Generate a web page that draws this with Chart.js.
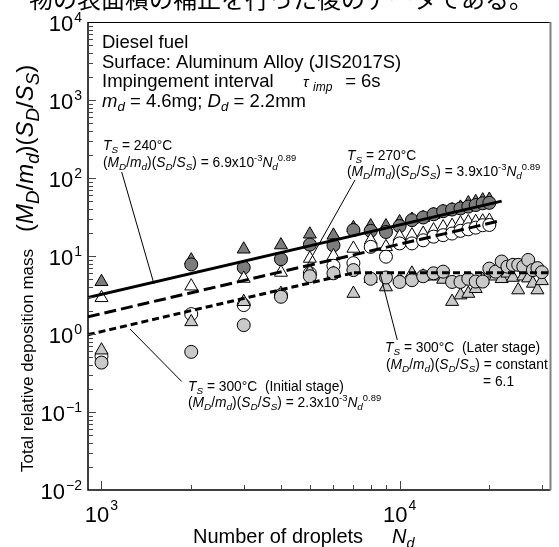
<!DOCTYPE html>
<html><head><meta charset="utf-8">
<script src="https://cdn.jsdelivr.net/npm/chart.js@4.4.0/dist/chart.umd.min.js"></script>
<style>html,body{margin:0;padding:0;background:#fff;overflow:hidden}</style>
</head><body><canvas id="c" width="559" height="547"></canvas>
<script>
// ---------- data ----------
const dropletsA = [1000,2000,3000,4000,5000,6000,7000,8000,9000,10000,11000,12000,13000,14000,15000,16000,17000,18000,19000,20000];
const dropletsC = [1000,2000,3000,4000,5000,6000,7000,8000,9000,10000,11000,12000,13000,14000,15000,16000,17000,18000,19000,20000,21000,22000,23000,24000,25000,26000,27000,28000,29000,30000];
// Ts = 240 C
const t240Tri  = [4.67,8.85,12.2,13.8,19.0,18.4,23.0,24.2,24.2,27.3,29.4,31.0,34.0,37.0,39.0,42.0,47.8,49.6,52.0,53.0];
const t240Circ = [null,7.8,7.1,9.1,14.0,13.7,21.5,21.0,20.3,24.2,28.8,31.2,34.3,37.5,39.4,40.7,43.0,45.0,47.4,48.0];
// Ts = 270 C
const t270Tri  = [2.91,4.1,5.15,6.15,9.3,10.0,12.5,15.9,13.1,17.7,18.5,19.4,21.5,23.5,24.5,26.4,27.3,27.5,27.9,28.5];
const t270Circ = [0.52,1.8,2.35,3.15,6.0,7.5,8.1,13.1,9.8,14.5,14.5,15.9,17.7,18.5,19.4,21.0,22.0,23.1,24.8,25.0];
// Ts = 300 C
const t300Tri  = [0.62,1.43,2.59,3.3,6.3,6.0,3.3,5.1,4.0,5.0,6.0,5.5,5.5,5.0,2.6,3.15,3.3,3.8,5.0,6.0,5.5,5.1,6.0,5.3,3.66,5.5,5.2,4.45,3.66,4.8];
const t300Circ = [0.43,0.59,1.3,3.0,5.5,6.0,6.6,5.1,5.3,4.65,4.9,5.5,6.0,6.3,4.65,4.65,5.1,4.7,4.7,6.9,6.3,8.5,7.3,7.7,7.7,7.3,8.9,6.6,7.0,6.2];
// fitted lines (end points)
const fit240N = [900,22000],  fit240V = [2.94,50.5];
const fit270N = [900,22000],  fit270V = [1.66,28.6];
const fit300iN = [900,7030],  fit300iV = [0.98,6.1];
const fit300lN = [7030,32000], fit300lV = [6.1,6.1];
// ticks
const yTickExp = [-2,-1,0,1,2,3,4];
const xTickExp = [3,4];

const pts = (xs, ys) => xs.map((x,i)=>({x, y: ys[i]})).filter(p=>p.y!=null);
const DARK = '#7c7c7c', LIGHT = '#c9c9c9', WHITE = '#ffffff';

function scatterDS(label, xs, ys, style, fill, r){
  return {type:'scatter', label, data: pts(xs,ys), pointStyle: style, pointRadius: r, pointHoverRadius: r,
    backgroundColor: fill, borderColor:'#000', borderWidth:1, showLine:false, order:1, clip:false};
}
function lineDS(label, xs, ys, dash){
  return {type:'line', label, data: pts(xs,ys), borderColor:'#000', borderWidth:3, borderDash: dash,
    pointRadius:0, fill:false, tension:0, order:0, borderCapStyle:'butt'};
}

const FONT = '"Liberation Sans", Arial, sans-serif';

// rich text: segs [[text, kind]] kind: '' normal, 'i' italic, 'b' italic subscript, 'B' upright subscript, 'p' superscript
function rich(ctx, x, y, base, segs, align, subScale){
  const ss = subScale || 0.72;
  const parts = segs.map(([t,k])=>{
    let size = base, dy = 0, it = false;
    if (k==='i') it = true;
    if (k==='b' || k==='B'){ size = base*ss; dy = base*0.25; it = (k==='b'); }
    if (k==='p'){ size = base*0.68; dy = -base*0.42; }
    if (k==='P'){ size = base*0.68; dy = -base*0.42; it = true; }
    const font = (it?'italic ':'') + size + 'px ' + FONT;
    ctx.font = font;
    return {t, font, dy, w: ctx.measureText(t).width};
  });
  const total = parts.reduce((a,p)=>a+p.w,0);
  let cx = x;
  if (align==='center') cx = x - total/2;
  if (align==='right') cx = x - total;
  ctx.textBaseline = 'alphabetic';
  ctx.textAlign = 'left';
  for (const p of parts){ ctx.font = p.font; ctx.fillText(p.t, cx, y + p.dy); cx += p.w; }
  return total;
}

const decor = {
  id:'decor',
  afterDraw(chart){
    const ctx = chart.ctx, a = chart.chartArea, xs = chart.scales.x, ys = chart.scales.y;
    ctx.save();
    ctx.fillStyle = '#000';
    // clipped Japanese text at the very top
    ctx.font = '24px "Noto Sans CJK JP"';
    ctx.textBaseline = 'alphabetic';
    ctx.fillText('物の表面積の補正を行った後のデータである。', 29, 8);

    // frame
    ctx.strokeStyle = '#000';
    ctx.lineWidth = 1.5;
    ctx.beginPath();
    ctx.moveTo(a.left, a.top); ctx.lineTo(a.left, a.bottom); ctx.lineTo(a.right, a.bottom);
    ctx.stroke();
    ctx.lineWidth = 1;
    ctx.beginPath(); ctx.moveTo(a.left, a.top+0.5); ctx.lineTo(a.right, a.top+0.5); ctx.stroke();
    ctx.strokeStyle = '#808080'; ctx.lineWidth = 2;
    ctx.beginPath(); ctx.moveTo(a.right, a.top); ctx.lineTo(a.right, a.bottom); ctx.stroke();

    // ticks
    ctx.strokeStyle = '#444'; ctx.lineWidth = 1;
    for (let e=-2; e<4; e++){
      for (let m=1; m<10; m++){
        const v = m*Math.pow(10,e);
        const py = Math.round(ys.getPixelForValue(v))+0.5;
        const len = m===1 ? 8 : 5;
        ctx.beginPath(); ctx.moveTo(a.left, py); ctx.lineTo(a.left+len, py); ctx.stroke();
      }
    }
    for (let e=2; e<5; e++){
      for (let m=1; m<10; m++){
        const v = m*Math.pow(10,e);
        if (v < xs.min || v > xs.max) continue;
        const px = Math.round(xs.getPixelForValue(v))+0.5;
        const len = m===1 ? 9 : 5;
        ctx.beginPath(); ctx.moveTo(px, a.bottom); ctx.lineTo(px, a.bottom-len); ctx.stroke();
      }
    }

    // tick labels
    ctx.fillStyle = '#000';
    for (const e of yTickExp){
      const py = ys.getPixelForValue(Math.pow(10,e));
      const sup = e<0 ? '\u2212'+(-e) : String(e);
      ctx.font = '14px '+FONT; const sw = ctx.measureText(sup).width;
      ctx.font = '22px '+FONT; const tw = ctx.measureText('10').width;
      const right = 82;
      ctx.textAlign='left'; ctx.textBaseline='alphabetic';
      ctx.fillText('10', right - sw - tw - 1, py + 9);
      ctx.font = '14px '+FONT;
      ctx.fillText(sup, right - sw, py);
    }
    for (const e of xTickExp){
      const px = xs.getPixelForValue(Math.pow(10,e));
      const sup = String(e);
      ctx.font = '14px '+FONT; const sw = ctx.measureText(sup).width;
      ctx.font = '22px '+FONT; const tw = ctx.measureText('10').width;
      const left = px - (sw+tw+1)/2;
      ctx.fillText('10', left, 522);
      ctx.font = '14px '+FONT;
      ctx.fillText(sup, left + tw + 1, 510);
    }

    // axis titles
    rich(ctx, 193, 543, 20, [['Number of droplets','']], 'left');
    rich(ctx, 392, 543, 20, [['N','i'],['d','b']], 'left');
    ctx.save();
    ctx.translate(33, 472);
    ctx.rotate(-Math.PI/2);
    rich(ctx, 0, 0, 17, [['Total relative deposition mass','']], 'left');
    rich(ctx, 240, 0, 24, [['(',''],['M','i'],['D','b'],['/',''],['m','i'],['d','b'],[')(',''],['S','i'],['D','b'],['/',''],['S','i'],['S','b'],[')','']], 'left', 0.78);
    ctx.restore();

    // info block
    const bx = 102;
    rich(ctx, bx, 48, 18.5, [['Diesel fuel','']]);
    rich(ctx, bx, 67.5, 18.5, [['Surface: Aluminum Alloy (JIS2017S)','']]);
    rich(ctx, bx, 87, 18.5, [['Impingement interval','']]);
    rich(ctx, 303, 87, 15, [['\u03c4','i']]);
    rich(ctx, 313, 91, 12, [['imp','i']]);
    rich(ctx, 340, 87, 18.5, [[' = 6s','']]);
    rich(ctx, bx, 106.5, 18.5, [['m','i'],['d','b'],[' = 4.6mg; ',''],['D','i'],['d','b'],[' = 2.2mm','']]);

    // annotations
    const eq = (c)=>[['(',''],['M','i'],['D','b'],['/',''],['m','i'],['d','b'],[')(',''],['S','i'],['D','b'],['/',''],['S','i'],['S','b'],[') = '+c+'x10',''],['-3','p'],['N','i'],['d','b'],['0.89','p']];
    const fs = 13.8;
    rich(ctx, 103, 150, fs, [['T','i'],['S','b'],[' = 240\u00b0C','']]);
    rich(ctx, 103, 166.5, fs, eq('6.9'));
    rich(ctx, 347, 160, fs, [['T','i'],['S','b'],[' = 270\u00b0C','']]);
    rich(ctx, 347, 176, fs, eq('3.9'));
    rich(ctx, 188, 390.5, fs, [['T','i'],['S','b'],[' = 300\u00b0C  (Initial stage)','']]);
    rich(ctx, 188, 407, fs, eq('2.3'));
    rich(ctx, 385, 352, fs, [['T','i'],['S','b'],[' = 300\u00b0C  (Later stage)','']]);
    rich(ctx, 386, 369, fs, [['(',''],['M','i'],['D','b'],['/',''],['m','i'],['d','b'],[')(',''],['S','i'],['D','b'],['/',''],['S','i'],['S','b'],[') = constant','']]);
    rich(ctx, 483, 385.5, fs, [['= 6.1','']]);

    // leader lines
    ctx.strokeStyle = '#000'; ctx.lineWidth = 1;
    const lines = [[121.7,172,154,284],[355,180,306.7,266],[130,329,181.7,381.5],[380,273,397.3,340]];
    for (const [x1,y1,x2,y2] of lines){ ctx.beginPath(); ctx.moveTo(x1,y1); ctx.lineTo(x2,y2); ctx.stroke(); }
    ctx.restore();
  }
};

new Chart(document.getElementById('c'), {
  type: 'scatter',
  data: { datasets: [
    lineDS('240 fit', fit240N, fit240V, []),
    lineDS('270 fit', fit270N, fit270V, [12,5]),
    lineDS('300 initial fit', fit300iN, fit300iV, [7,4]),
    lineDS('300 later fit', fit300lN, fit300lV, [7,4]),
    scatterDS('300 circle', dropletsC, t300Circ, 'circle', LIGHT, 6.5),
    scatterDS('300 triangle', dropletsC, t300Tri, 'triangle', LIGHT, 7.5),
    scatterDS('270 circle', dropletsA, t270Circ, 'circle', WHITE, 6.5),
    scatterDS('270 triangle', dropletsA, t270Tri, 'triangle', WHITE, 7.5),
    scatterDS('240 circle', dropletsA, t240Circ, 'circle', DARK, 6.5),
    scatterDS('240 triangle', dropletsA, t240Tri, 'triangle', DARK, 7.5)
  ]},
  options: {
    responsive:false, animation:false, devicePixelRatio:1,
    layout:{padding:{left:88, right:3, top:22, bottom:57}},
    plugins:{legend:{display:false}, tooltip:{enabled:false}},
    scales:{
      x:{type:'logarithmic', min:901, max:32080, display:false},
      y:{type:'logarithmic', min:0.01, max:10000, display:false}
    }
  },
  plugins:[decor]
});
</script></body></html>
